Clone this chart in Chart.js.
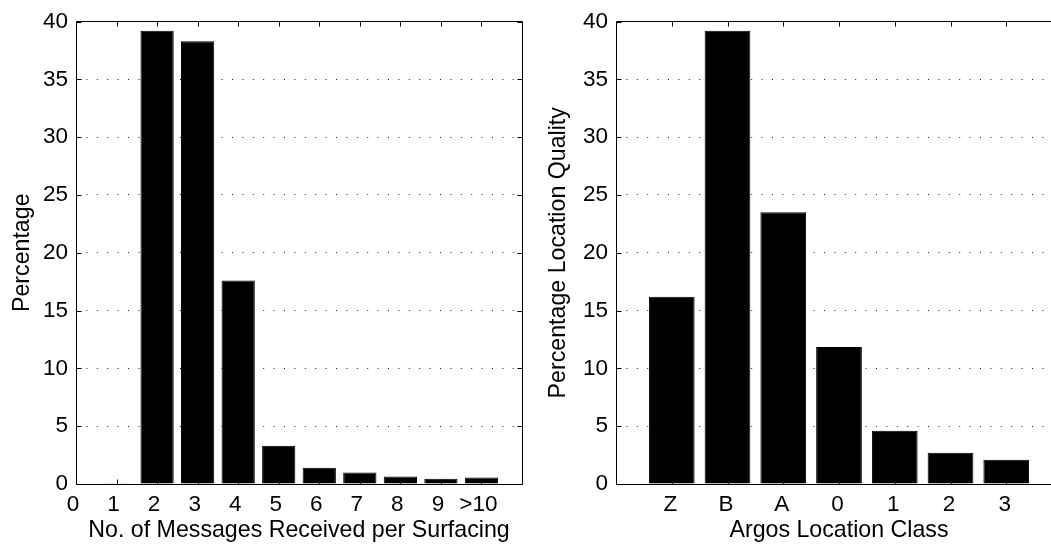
<!DOCTYPE html>
<html><head><meta charset="utf-8">
<script src="https://cdn.jsdelivr.net/npm/chart.js@4.4.1/dist/chart.umd.min.js"></script>
<style>
html,body{margin:0;padding:0;background:#fff;overflow:hidden;width:1051px;height:547px;position:relative;}
.panel{position:absolute;top:0;height:547px;overflow:hidden;}
#p1{left:0;width:540px}
#p2{left:540px;width:511px}
canvas{display:block}
</style></head><body>
<div class="panel" id="p1"><canvas id="c1" width="540" height="547"></canvas></div>
<div class="panel" id="p2"><canvas id="c2" width="540" height="547"></canvas></div>
<script>
// ---- data ----
const msgPositions = [1, 2, 3, 4, 5, 6, 7, 8, 9, 10];
const msgPercent = [0.07, 39.2, 38.3, 17.6, 3.3, 1.4, 1.0, 0.65, 0.45, 0.57];
const msgTickValues = [0, 1, 2, 3, 4, 5, 6, 7, 8, 9, 10];
const msgTickLabels = ['0', '1', '2', '3', '4', '5', '6', '7', '8', '9', '>10'];

const classPositions = [1, 2, 3, 4, 5, 6, 7];
const classLabels = ['Z', 'B', 'A', '0', '1', '2', '3'];
const classPercent = [16.2, 39.2, 23.5, 11.85, 4.6, 2.7, 2.1];

const yTickValues = [0, 5, 10, 15, 20, 25, 30, 35, 40];

// ---- drawing ----
const FAMILY = '"Liberation Sans", Arial, Helvetica, sans-serif';
const TICK_FONT = {family: FAMILY, size: 22.5};
const TITLE_FONT = {family: FAMILY, size: 23.2};

const boxPlugin = {
  id: 'matlabBox',
  afterDatasetsDraw(chart) {
    const {ctx, chartArea: a, scales: {x, y}} = chart;
    const L = Math.floor(a.left) + 0.5, R = Math.floor(a.right) + 0.5;
    const T = Math.floor(a.top) + 0.5, B = Math.floor(a.bottom) + 0.5;
    ctx.save();
    ctx.strokeStyle = '#000';
    ctx.lineWidth = 1;
    ctx.setLineDash([]);
    ctx.beginPath();
    ctx.rect(L, T, R - L, B - T);
    const tl = 5;
    x.ticks.forEach(t => {
      const px = Math.round(x.getPixelForValue(t.value)) + 0.5;
      ctx.moveTo(px, B); ctx.lineTo(px, B - tl);
      ctx.moveTo(px, T); ctx.lineTo(px, T + tl);
    });
    y.ticks.forEach(t => {
      const py = Math.round(y.getPixelForValue(t.value)) + 0.5;
      ctx.moveTo(L, py); ctx.lineTo(L + tl, py);
      ctx.moveTo(R, py); ctx.lineTo(R - tl, py);
    });
    ctx.stroke();
    ctx.restore();
  }
};

function makeChart(id, positions, values, tickValues, tickLabels, xMax, xTitle, yTitle, yTitlePad, labelShift) {
  return new Chart(document.getElementById(id), {
    type: 'bar',
    data: {
      datasets: [{
        data: positions.map((p, i) => ({x: p, y: values[i]})),
        backgroundColor: '#000',
        borderColor: '#000',
        borderWidth: 1,
        barPercentage: 0.82,
        categoryPercentage: 1.0
      }]
    },
    options: {
      responsive: false,
      animation: false,
      devicePixelRatio: 1,
      layout: {padding: {left: 0, top: 15, right: 18, bottom: 0}},
      plugins: {legend: {display: false}, tooltip: {enabled: false}},
      scales: {
        x: {
          type: 'linear', min: 0, max: xMax, offset: false,
          afterBuildTicks: s => { s.ticks = tickValues.map(v => ({value: v})); },
          afterFit: s => { s.height = 63; },
          ticks: {
            autoSkip: false, maxRotation: 0, minRotation: 0,
            color: '#000', font: TICK_FONT, padding: 7, labelOffset: labelShift,
            callback: v => tickLabels[tickValues.indexOf(v)]
          },
          grid: {display: false, drawTicks: false, offset: false},
          border: {display: false},
          title: {display: true, text: xTitle, color: '#000', font: TITLE_FONT, padding: {top: 0, bottom: 2}}
        },
        y: {
          type: 'linear', min: 0, max: 40,
          afterBuildTicks: s => { s.ticks = yTickValues.map(v => ({value: v})); },
          afterFit: s => { s.width = 76; },
          ticks: {color: '#000', font: TICK_FONT, padding: 8},
          grid: {
            drawTicks: false, lineWidth: 1,
            color: c => (c.tick && (c.tick.value === 0 || c.tick.value === 40)) ? 'rgba(0,0,0,0)' : '#222'
          },
          border: {display: false, dash: [1, 9.4]},
          title: {display: true, text: yTitle, color: '#000', font: TITLE_FONT, padding: {top: yTitlePad, bottom: 0}}
        }
      }
    },
    plugins: [boxPlugin]
  });
}

makeChart('c1', msgPositions, msgPercent, msgTickValues, msgTickLabels, 11,
  'No. of Messages Received per Surfacing', 'Percentage', 9, -3);
makeChart('c2', classPositions, classPercent, classPositions, classLabels, 8,
  'Argos Location Class', 'Percentage Location Quality', 5, -1.5);
</script>
</body></html>
